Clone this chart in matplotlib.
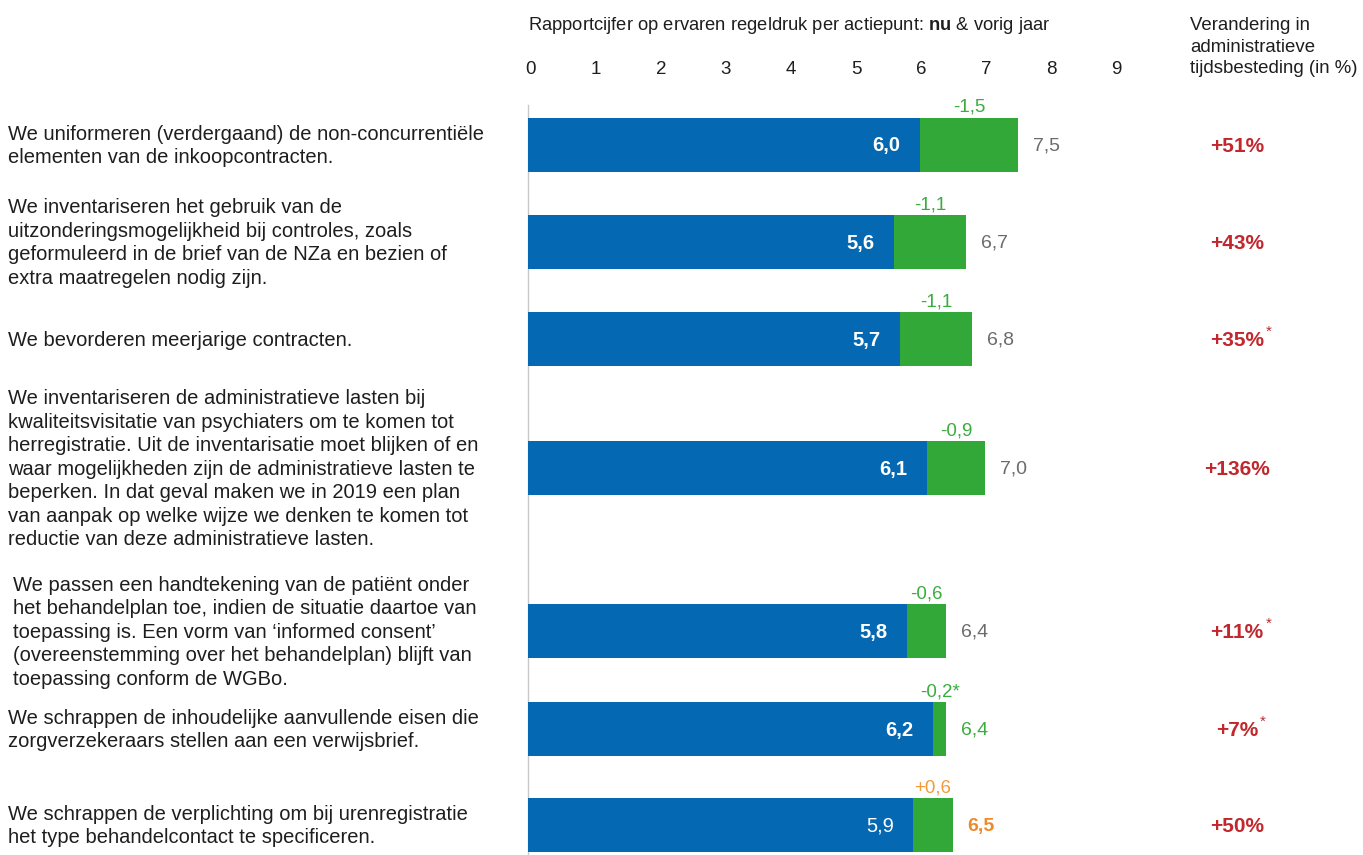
import matplotlib
matplotlib.use("Agg")
import matplotlib.pyplot as plt

plt.rcParams["font.family"] = ["Liberation Sans", "DejaVu Sans"]
plt.rcParams["mathtext.fontset"] = "custom"
plt.rcParams["mathtext.rm"] = "Liberation Sans"
plt.rcParams["mathtext.bf"] = "Liberation Sans:bold"

# ─── data ────────────────────────────────────────────────────────────────
actiepunten = [
    "We uniformeren (verdergaand) de non-concurrentiële\n"
    "elementen van de inkoopcontracten.",
    "We inventariseren het gebruik van de\n"
    "uitzonderingsmogelijkheid bij controles, zoals\n"
    "geformuleerd in de brief van de NZa en bezien of\n"
    "extra maatregelen nodig zijn.",
    "We bevorderen meerjarige contracten.",
    "We inventariseren de administratieve lasten bij\n"
    "kwaliteitsvisitatie van psychiaters om te komen tot\n"
    "herregistratie. Uit de inventarisatie moet blijken of en\n"
    "waar mogelijkheden zijn de administratieve lasten te\n"
    "beperken. In dat geval maken we in 2019 een plan\n"
    "van aanpak op welke wijze we denken te komen tot\n"
    "reductie van deze administratieve lasten.",
    "We passen een handtekening van de patiënt onder\n"
    "het behandelplan toe, indien de situatie daartoe van\n"
    "toepassing is. Een vorm van \u2018informed consent\u2019\n"
    "(overeenstemming over het behandelplan) blijft van\n"
    "toepassing conform de WGBo.",
    "We schrappen de inhoudelijke aanvullende eisen die\n"
    "zorgverzekeraars stellen aan een verwijsbrief.",
    "We schrappen de verplichting om bij urenregistratie\n"
    "het type behandelcontact te specificeren.",
]
nu = [6.0, 5.6, 5.7, 6.1, 5.8, 6.2, 6.5]
vorig_jaar = [7.5, 6.7, 6.8, 7.0, 6.4, 6.4, 5.9]
verschil_ster = [False, False, False, False, False, True, False]
tijd_pct = ["+51%", "+43%", "+35%", "+136%", "+11%", "+7%", "+50%"]
tijd_ster = [False, False, True, False, True, True, False]
ticks = list(range(10))

# ─── layout (pixels) ─────────────────────────────────────────────────────
W, H = 1363, 855
X0, SCALE = 528, 65.33          # px of value 0, px per unit
bar_y = [145, 242, 339, 468, 631, 729, 825]
label_x = [8, 8, 8, 8, 13, 8, 8]
BAR_H = 54

BLUE = "#0468b2"
GREEN = "#31a838"
GREEN_TXT = "#3aad3e"
GREY = "#6b6b6b"
ORANGE = "#f39a3c"
ORANGE_B = "#ef8a2a"
RED = "#c1272d"
TXT = "#1e1e1e"


def px(x):
    return (x - X0) / SCALE


fig = plt.figure(figsize=(W / 100, H / 100), dpi=100)
ax = fig.add_axes([0, 0, 1, 1])
ax.set_xlim(px(0), px(W))
ax.set_ylim(H, 0)
ax.axis("off")

# vertical axis line
ax.plot([0, 0], [105, H], color="#c8c8c8", lw=1, zorder=1)

# header
ax.text(0, 25, r"Rapportcijfer op ervaren regeldruk per actiepunt: $\mathbf{nu}$ & vorig jaar",
        ha="left", va="center", fontsize=13.2, color=TXT)
for t in ticks:
    ax.text(t * 0.996 + 0.04, 70, str(t), ha="center", va="center", fontsize=13.5, color=TXT)
ax.text(px(1190), 47, "Verandering in\nadministratieve\ntijdsbesteding (in %)",
        ha="left", va="center", fontsize=13.4, color=TXT, linespacing=1.36)

for i, y in enumerate(bar_y):
    lo = min(nu[i], vorig_jaar[i])
    hi = max(nu[i], vorig_jaar[i])
    ax.barh(y, lo, height=BAR_H, color=BLUE, zorder=2)
    ax.barh(y, hi - lo, left=lo, height=BAR_H, color=GREEN, zorder=2)

    # label inside blue bar
    stijgt = nu[i] > vorig_jaar[i]
    ax.text(lo - 0.3, y + 1, f"{lo:.1f}".replace(".", ","), ha="right", va="center",
            fontsize=14.5, color="white", fontweight="normal" if stijgt else "bold", zorder=3)

    # label after green bar
    if stijgt:
        col, fw = ORANGE_B, "bold"
    elif verschil_ster[i]:
        col, fw = GREEN_TXT, "normal"
    else:
        col, fw = GREY, "normal"
    ax.text(hi + 0.23, y + 1, f"{hi:.1f}".replace(".", ","), ha="left", va="center",
            fontsize=14, color=col, fontweight=fw)

    # difference above green bar
    d = f"{nu[i] - vorig_jaar[i]:+.1f}".replace(".", ",")
    if verschil_ster[i]:
        d += "*"
    ax.text((lo + hi) / 2, y - BAR_H / 2 - 2, d, ha="center", va="bottom",
            fontsize=13.5, color=ORANGE if stijgt else GREEN_TXT)

    # left description
    ax.text(px(label_x[i]), y + 1, actiepunten[i], ha="left", va="center",
            fontsize=14.5, color=TXT, linespacing=1.3)

    # percentage
    tp = ax.text(px(1237), y + 1, tijd_pct[i], ha="center", va="center",
                 fontsize=15, color=RED, fontweight="bold")
    if tijd_ster[i]:
        ax.annotate("*", xy=(1, 1), xycoords=tp, xytext=(1.5, 4), textcoords="offset points",
                    ha="left", va="top", fontsize=11, color=RED)

fig.savefig("out.png", dpi=100)
